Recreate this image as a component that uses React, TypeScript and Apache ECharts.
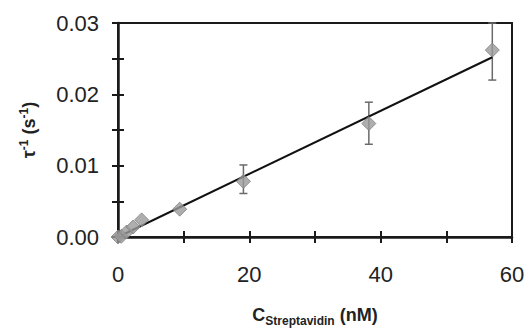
import React, { useEffect, useRef } from "react";
import * as echarts from "echarts";

const conc = [0, 0.5, 1.3, 2.3, 3.6, 9.4, 19.1, 38.2, 57];
const rate = [0, 0.0001, 0.0007, 0.0014, 0.0024, 0.0039, 0.0078, 0.0159, 0.0262];
const errX = [19.1, 38.2, 57];
const errLow = [0.0061, 0.013, 0.022];
const errHigh = [0.0101, 0.0189, 0.03];
const fitX = [0, 57];
const fitY = [0, 0.0252];

export default function App() {
  const ref = useRef<HTMLDivElement>(null);
  useEffect(() => {
    if (!ref.current) return;
    const chart = echarts.init(ref.current, undefined, { renderer: "svg" });
    const font = "Liberation Sans, Arial, sans-serif";
    const axisColor = "#1a1a1a";
    chart.setOption({
      animation: false,
      backgroundColor: "#ffffff",
      grid: {
        left: 118,
        right: 14,
        top: 23,
        bottom: 92,
        containLabel: false,
        outerBoundsMode: "none",
        show: true,
        borderColor: axisColor,
        borderWidth: 2,
        backgroundColor: "transparent",
      },
      xAxis: [
        {
          type: "value",
          min: 0,
          max: 60,
          interval: 10,
          position: "bottom",
          splitLine: { show: false },
          axisLine: { show: true, onZero: false, lineStyle: { color: axisColor, width: 2.5 } },
          axisTick: { show: true, inside: false, length: 6, lineStyle: { color: axisColor, width: 2 } },
          axisLabel: {
            margin: 26,
            fontSize: 22,
            fontFamily: font,
            color: "#222",
            formatter: (v: number) => (Math.round(v) % 20 === 0 ? String(Math.round(v)) : ""),
          },
          name: "{c|C}{sub|Streptavidin}{c| (nM)}",
          nameLocation: "middle",
          nameGap: 66,
          nameTextStyle: {
            rich: {
              c: { fontSize: 18, fontWeight: "bold", fontFamily: font, color: "#222" },
              sub: {
                fontSize: 12,
                fontWeight: "bold",
                fontFamily: font,
                color: "#222",
                verticalAlign: "bottom",
                padding: [12, 0, 0, 0],
              },
            },
          },
        },
        {
          type: "value",
          min: 0,
          max: 60,
          interval: 10,
          position: "bottom",
          splitLine: { show: false },
          axisLine: { show: false, onZero: false },
          axisTick: { show: true, inside: true, length: 6, lineStyle: { color: axisColor, width: 2 } },
          axisLabel: { show: false },
        },
      ],
      yAxis: [
        {
          type: "value",
          min: 0,
          max: 0.03,
          interval: 0.005,
          position: "left",
          splitLine: { show: false },
          axisLine: { show: true, onZero: false, lineStyle: { color: axisColor, width: 2.5 } },
          axisTick: { show: true, inside: false, length: 6, lineStyle: { color: axisColor, width: 2 } },
          axisLabel: {
            margin: 19,
            fontSize: 22,
            fontFamily: font,
            color: "#222",
            formatter: (v: number) => (Math.round(v * 1000) % 10 === 0 ? v.toFixed(2) : ""),
          },
          name: "{c|τ}{sup|-1}{c| (s}{sup|-1}{c|)}",
          nameLocation: "middle",
          nameRotate: 90,
          nameGap: 78,
          nameTextStyle: {
            rich: {
              c: { fontSize: 18, fontWeight: "bold", fontFamily: font, color: "#222" },
              sup: {
                fontSize: 12,
                fontWeight: "bold",
                fontFamily: font,
                color: "#222",
                verticalAlign: "top",
                padding: [0, 0, 10, 0],
              },
            },
          },
        },
        {
          type: "value",
          min: 0,
          max: 0.03,
          interval: 0.005,
          position: "left",
          splitLine: { show: false },
          axisLine: { show: false, onZero: false },
          axisTick: { show: true, inside: true, length: 6, lineStyle: { color: axisColor, width: 2 } },
          axisLabel: { show: false },
        },
      ],
      series: [
        {
          type: "line",
          data: fitX.map((x, i) => [x, fitY[i]]),
          showSymbol: false,
          symbol: "none",
          lineStyle: { color: "#111", width: 2 },
          z: 3,
        },
        {
          type: "custom",
          data: errX.map((x, i) => [x, errLow[i], errHigh[i]]),
          renderItem: (params: any, api: any) => {
            const x = api.value(0);
            const lo = api.coord([x, api.value(1)]);
            const hi = api.coord([x, api.value(2)]);
            const w = 4;
            const style = { stroke: "#6a6a6a", lineWidth: 1.5 };
            return {
              type: "group",
              children: [
                { type: "line", shape: { x1: lo[0], y1: lo[1], x2: hi[0], y2: hi[1] }, style },
                { type: "line", shape: { x1: lo[0] - w, y1: lo[1], x2: lo[0] + w, y2: lo[1] }, style },
                { type: "line", shape: { x1: hi[0] - w, y1: hi[1], x2: hi[0] + w, y2: hi[1] }, style },
              ],
            };
          },
          z: 2,
        },
        {
          type: "scatter",
          data: conc.map((x, i) => [x, rate[i]]),
          symbol: "diamond",
          symbolSize: 14,
          itemStyle: { color: "#9a9a9a", borderColor: "#808080", borderWidth: 1 },
          z: 4,
        },
      ],
    });
    return () => chart.dispose();
  }, []);
  return <div ref={ref} style={{ width: 526, height: 329, position: "absolute", left: 0, top: 0 }} />;
}
